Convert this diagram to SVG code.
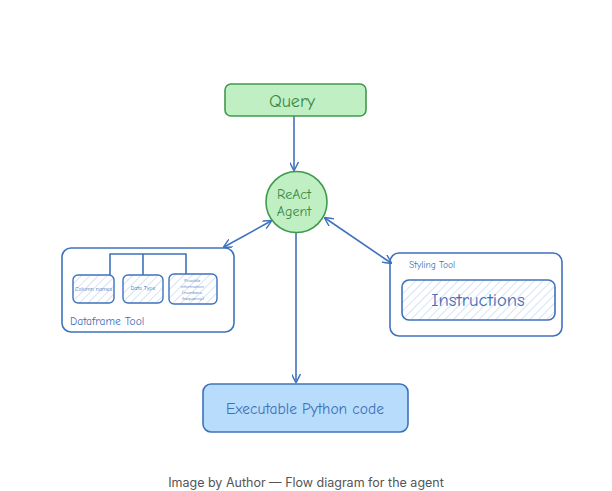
<svg xmlns="http://www.w3.org/2000/svg" width="612" height="491" viewBox="0 0 612 491">
<style>
.hand{font-family:"Comic Neue","DejaVu Sans","Liberation Sans",sans-serif}
.blue{fill:none;stroke:#3f72bd;stroke-width:1.6}
.green{fill:#c1efc4;stroke:#3f9a4c;stroke-width:1.6}
.btxt{fill:#3f6fb8}
.gtxt{fill:#3a8a45}
.conn{stroke:#3f72bd;stroke-width:1.6;fill:none}
</style>
<defs>
<pattern id="hatch" patternUnits="userSpaceOnUse" width="6" height="6" patternTransform="rotate(45)">
<rect width="6" height="6" fill="#ffffff"/>
<line x1="0" y1="0" x2="0" y2="6" stroke="#b9d3f0" stroke-width="1.2"/>
</pattern>
<marker id="ah" viewBox="0 0 10 10" refX="9" refY="5" markerWidth="9" markerHeight="9" orient="auto-start-reverse" markerUnits="userSpaceOnUse">
<path d="M0,0 L10,5 L0,10" fill="none" stroke="#3f72bd" stroke-width="1.6"/>
</marker>
</defs>
<rect width="612" height="491" fill="#ffffff"/>

<g id="connectors">
<line class="conn" x1="294" y1="116" x2="294" y2="170" marker-end="url(#ah)"/>
<line class="conn" x1="296" y1="233" x2="296" y2="382" marker-end="url(#ah)"/>
<line class="conn" x1="224" y1="247" x2="271" y2="221" marker-start="url(#ah)" marker-end="url(#ah)"/>
<line class="conn" x1="325" y1="218" x2="391" y2="263" marker-start="url(#ah)" marker-end="url(#ah)"/>
<path class="conn" d="M110,275 V254 H186 V275 M143,254 V275"/>
</g>

<g id="query">
<rect class="green" x="225" y="84" width="141" height="32" rx="6"/>
<text class="hand gtxt" x="292" y="106.5" font-size="18" text-anchor="middle">Query</text>
</g>

<g id="agent">
<circle class="green" cx="296.5" cy="202" r="30.5"/>
<text class="hand gtxt" x="294" y="199" font-size="14" text-anchor="middle">ReAct</text>
<text class="hand gtxt" x="294" y="216" font-size="14" text-anchor="middle">Agent</text>
</g>

<g id="dataframe-tool">
<rect class="blue" x="62" y="248" width="172" height="84" rx="9"/>
<text class="hand btxt" x="70" y="325" font-size="11.5">Dataframe Tool</text>
</g>

<g id="column-names">
<rect x="73" y="275" width="41" height="28" rx="5" fill="url(#hatch)" stroke="#3f72bd" stroke-width="1.4"/>
<text class="hand btxt" x="93.5" y="291" font-size="5.8" text-anchor="middle">Column names</text>
</g>

<g id="data-type">
<rect x="123" y="275" width="40" height="28" rx="5" fill="url(#hatch)" stroke="#3f72bd" stroke-width="1.4"/>
<text class="hand btxt" x="143" y="290" font-size="5.8" text-anchor="middle">Data Type</text>
</g>

<g id="possible-info">
<rect x="169" y="274" width="48" height="30" rx="5" fill="url(#hatch)" stroke="#3f72bd" stroke-width="1.4"/>
<text class="hand btxt" font-size="4.8" text-anchor="middle">
<tspan x="193" y="281.5">Possible</tspan>
<tspan x="193" y="287.5">information</tspan>
<tspan x="193" y="293.5">(numbers,</tspan>
<tspan x="193" y="299.5">frequency)</tspan>
</text>
</g>

<g id="styling-tool">
<rect class="blue" x="390" y="253" width="172" height="83" rx="9"/>
<text class="hand btxt" x="409" y="268" font-size="9.5">Styling Tool</text>
</g>

<g id="instructions">
<rect x="402" y="280" width="153" height="40" rx="7" fill="url(#hatch)" stroke="#3f72bd" stroke-width="1.6"/>
<text class="hand btxt" x="478" y="306" font-size="18.5" text-anchor="middle">Instructions</text>
</g>

<g id="executable">
<rect x="203" y="384" width="205" height="48" rx="8" fill="#b8dcfb" stroke="#3f72bd" stroke-width="1.6"/>
<text class="hand btxt" x="305" y="414" font-size="15.5" text-anchor="middle">Executable Python code</text>
</g>

<text x="306" y="487" font-family="Inter,'Liberation Sans',sans-serif" font-size="12.5" fill="#555555" text-anchor="middle">Image by Author — Flow diagram for the agent</text>
</svg>
